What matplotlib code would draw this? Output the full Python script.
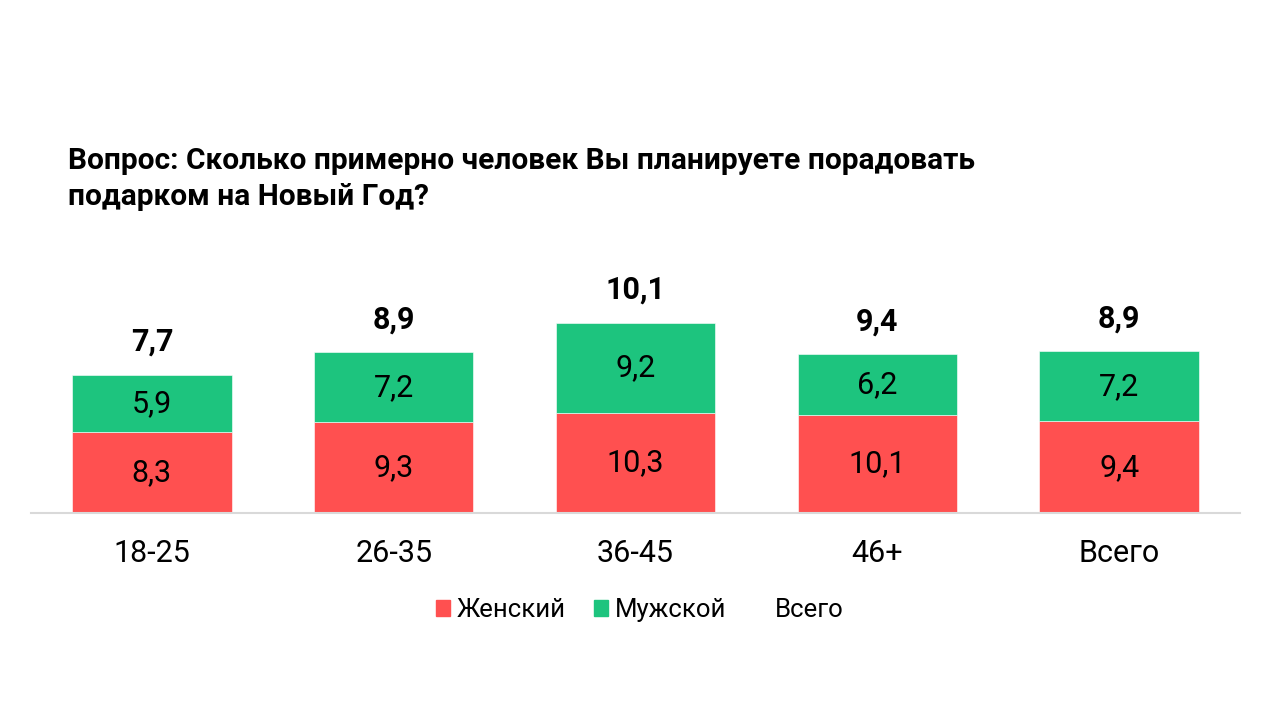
import numpy as np
import matplotlib
matplotlib.use("Agg")
import matplotlib.pyplot as plt
from matplotlib.patches import Patch

# data
groups = ["18-25", "26-35", "36-45", "46+", "Всего"]
female = [8.3, 9.3, 10.3, 10.1, 9.4]
male = [5.9, 7.2, 9.2, 6.2, 7.2]
total = [7.7, 8.9, 10.1, 9.4, 8.9]

title = "Вопрос: Сколько примерно человек Вы планируете порадовать\nподарком на Новый Год?"

RED = "#FF5050"
GREEN = "#1DC47E"

plt.rcParams['font.family'] = ['Roboto', 'DejaVu Sans']

def fmt(v):
    return ("%.1f" % v).replace(".", ",")

fig = plt.figure(figsize=(12.8, 7.2), dpi=100)
ax = fig.add_axes([31 / 1280, 1 - 513 / 720, (1240 - 31) / 1280, (513 - 250) / 720])

x = np.arange(len(groups))
w = 0.66
bf = ax.bar(x, female, w, color=RED, edgecolor="#ffffff", linewidth=0.4, label="Женский")
bm = ax.bar(x, male, w, bottom=female, color=GREEN, edgecolor="#ffffff", linewidth=0.4, label="Мужской")

for i in range(len(groups)):
    ax.text(x[i], female[i] / 2, fmt(female[i]), ha="center", va="center", fontsize=22)
    ax.text(x[i], female[i] + male[i] / 2, fmt(male[i]), ha="center", va="center", fontsize=22)
    ax.annotate(fmt(total[i]), (x[i], female[i] + male[i]), xytext=(0, 13),
                textcoords="offset points", ha="center", va="bottom",
                fontsize=22, fontweight="bold")

ax.set_xlim(-0.5, len(groups) - 0.5)
ax.set_ylim(0, 27)
ax.set_yticks([])
ax.set_xticks(x)
ax.set_xticklabels(groups, fontsize=22)
ax.tick_params(axis="x", length=0, pad=19)
for s in ["top", "left", "right"]:
    ax.spines[s].set_visible(False)
ax.spines["bottom"].set_color("#d9d9d9")
ax.spines["bottom"].set_linewidth(1.5)

fig.text(68 / 1280, 1 - 179 / 720, title, ha="left", va="center", fontsize=21.5,
         fontweight="bold", linespacing=1.33)

handles = [Patch(color=RED, label="Женский"), Patch(color=GREEN, label="Мужской"),
           Patch(color="none", label="Всего")]
fig.legend(handles=handles, loc="center", bbox_to_anchor=(0.5, 1 - 610 / 720), ncol=3,
           frameon=False, fontsize=18.5, handlelength=0.55, handleheight=0.55,
           handletextpad=0.25, columnspacing=1.1)

fig.savefig("out.png", dpi=100)
